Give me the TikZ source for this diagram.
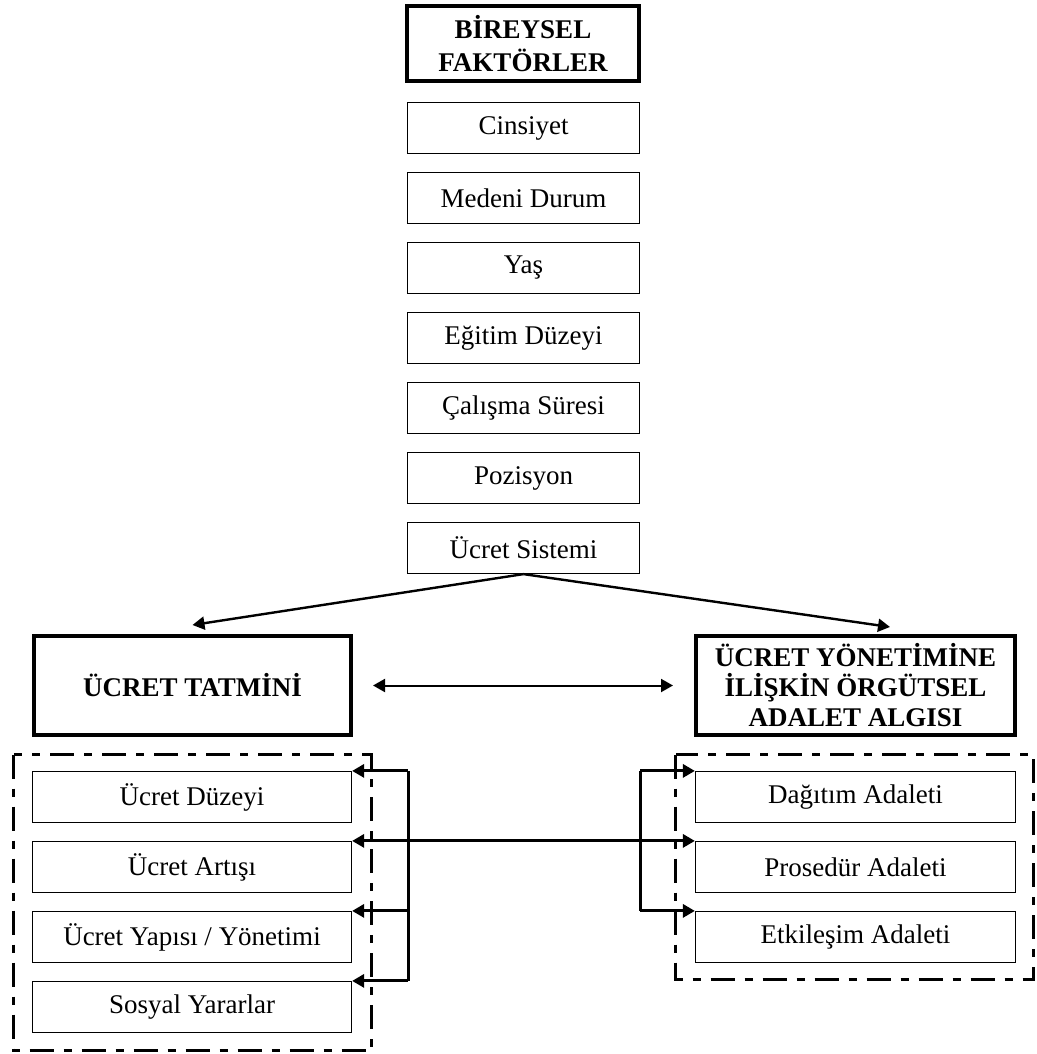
\documentclass[tikz,border=0pt]{standalone}
\usepackage{fontspec}
\setmainfont{Liberation Serif}
\usetikzlibrary{arrows.meta,calc}
\begin{document}
\begin{tikzpicture}[x=0.5pt,y=-0.5pt,
  txt/.style={font=\fontsize{13.5}{16}\selectfont},
  factor/.style={draw, line width=0.6pt, minimum width=116pt, minimum height=25.5pt, inner sep=0pt, txt},
  dimbox/.style={draw, line width=0.6pt, minimum width=159.5pt, minimum height=25.5pt, inner sep=0pt, txt},
  head/.style={draw, line width=2pt, align=center, inner sep=0pt},
  groupbox/.style={line width=1.5pt, dash pattern=on 12pt off 5pt on 4pt off 5pt},
  arr/.style={-{Triangle[length=6pt,width=6.5pt]}, line width=1.2pt},
  dbl/.style={{Triangle[length=6pt,width=6.5pt]}-{Triangle[length=6pt,width=6.5pt]}, line width=1pt},
  link/.style={line width=1.5pt},
]
\useasboundingbox (0,0) rectangle (1037,1054);

% individual factors column
\node[head, minimum width=116pt, minimum height=37.5pt,
      font=\fontsize{13.5}{16.5}\selectfont\bfseries] (bf) at (523,43.5) {BİREYSEL\\FAKTÖRLER};
\node[factor] (f1) at (523.5,128) {Cinsiyet};
\node[factor] (f2) at (523.5,198) {Medeni Durum};
\node[factor] (f3) at (523.5,268) {Yaş};
\node[factor] (f4) at (523.5,338) {Eğitim Düzeyi};
\node[factor] (f5) at (523.5,408) {Çalışma Süresi};
\node[factor] (f6) at (523.5,478) {Pozisyon};
\node[factor] (f7) at (523.5,548) {Ücret Sistemi};

% main constructs
\node[head, minimum width=158.5pt, minimum height=49.5pt,
      font=\fontsize{13.5}{16}\selectfont\bfseries] (tatmin) at (192.5,685.5) {ÜCRET TATMİNİ};
\node[head, minimum width=159.5pt, minimum height=49.5pt,
      font=\fontsize{13.5}{15}\selectfont\bfseries] (algi) at (855.5,685.5)
      {ÜCRET YÖNETİMİNE\\İLİŞKİN ÖRGÜTSEL\\ADALET ALGISI};

% pay satisfaction dimensions
\node[dimbox] (ud) at (192,797) {Ücret Düzeyi};
\node[dimbox] (ua) at (192,867) {Ücret Artışı};
\node[dimbox] (uy) at (192,937) {Ücret Yapısı / Yönetimi};
\node[dimbox] (sy) at (192,1007) {Sosyal Yararlar};

% justice dimensions
\node[dimbox, minimum width=160pt] (da) at (855.5,797) {Dağıtım Adaleti};
\node[dimbox, minimum width=160pt] (pa) at (855.5,867) {Prosedür Adaleti};
\node[dimbox, minimum width=160pt] (ea) at (855.5,937) {Etkileşim Adaleti};

% arrows from the pay system to both constructs
\coordinate (tl) at ($(tatmin.north)+(0,-9)$);
\coordinate (tr) at ($(algi.north)+(34.5,-7)$);
\draw[arr] (f7.south) -- (tl);
\draw[arr] (f7.south) -- (tr);

% mutual relation between the constructs
\draw[dbl] ($(tatmin.east)+(20,0)$) -- ($(algi.west)+(-21,0)$);

% bracket connectors between the dimension groups
\coordinate (lb) at (408,0);
\coordinate (rb) at (640,0);
\draw[link] (ud.north east -| lb) -- (sy.north east -| lb);
\draw[link] (ua.north east -| lb) -- (ua.north east -| rb);
\draw[link] (da.north west -| rb) -- (ea.north west -| rb);
\foreach \n in {ud,ua,uy,sy}
  \draw[arr, line width=1.5pt] (\n.north east -| lb) -- (\n.north east);
\foreach \n in {da,pa,ea}
  \draw[arr, line width=1.5pt] (\n.north west -| rb) -- (\n.north west);

% dash-dotted group frames
\draw[groupbox] (13.5,754.5) rectangle (371.5,1050.5);
\draw[groupbox] (675.5,754.5) rectangle (1033.5,979.5);
\end{tikzpicture}
\end{document}
